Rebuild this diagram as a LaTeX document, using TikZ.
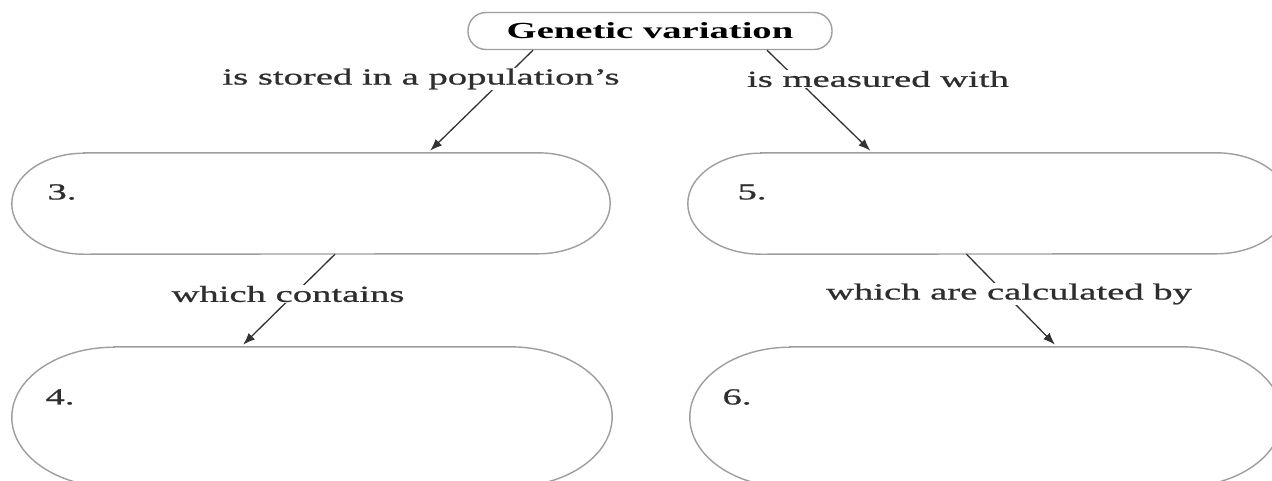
\documentclass[tikz,border=0pt]{standalone}
\usepackage{fontspec}
\setmainfont{Liberation Serif}[FakeStretch=1.68, UprightFeatures={FakeBold=0.8}]
\usetikzlibrary{arrows.meta,calc}
\tikzset{
  txt/.style={font=\fontsize{23}{27}\selectfont, text=black!82, inner sep=1pt},
  lab/.style={txt, fill=white},
  pillline/.style={draw=black!38, line width=1.4pt},
  conn/.style={draw=black!80, line width=1.3pt, -{Latex[length=12pt,width=9pt]}, shorten >=3pt},
  holder/.style={draw=none, inner sep=0pt}
}
% #1 node, #2 rx, #3 ry (pt)
\newcommand\pillout[3]{%
  \draw[pillline] let \p1=(#1.north west), \p2=(#1.south east) in
    (\x1+#2pt,\y1) -- (\x2-#2pt,\y1)
    arc[start angle=90,end angle=-90,x radius=#2pt,y radius=#3pt]
    -- (\x1+#2pt,\y2)
    arc[start angle=270,end angle=90,x radius=#2pt,y radius=#3pt] -- cycle;}
\begin{document}
\begin{tikzpicture}[x=1pt,y=-1pt]
\useasboundingbox (0,0) rectangle (1272,480);
\fill[white] (0,0) rectangle (1272,480);
\clip (0,0) rectangle (1272,480);

% top concept
\node[txt, text=black, draw=black!38, line width=1.4pt, rounded corners=18pt, minimum width=364pt, minimum height=37pt, font=\fontsize{23}{27}\selectfont\bfseries] (gv) at (650,31) {Genetic variation};

% boxes
\node[holder, minimum width=598pt, minimum height=101pt] (b3) at (311,203.5) {};
\node[holder, minimum width=601pt, minimum height=101pt] (b5) at (988.5,203.5) {};
\node[holder, minimum width=600pt, minimum height=140pt] (b4) at (312,417) {};
\node[holder, minimum width=592pt, minimum height=140pt] (b6) at (986,417) {};
\pillout{b3}{72}{50.5}
\pillout{b5}{73}{50.5}
\pillout{b4}{102}{70}
\pillout{b6}{100}{70}

% numbers
\node[txt] (n3) at (62,192) {3.};
\node[txt] (n5) at (752,192) {5.};
\node[txt] (n4) at (60,397) {4.};
\node[txt] (n6) at (737,397) {6.};

% connectors
\draw[conn] ([xshift=-117pt]gv.south) -- ([xshift=117pt]b3.north);
\draw[conn] ([xshift=117pt]gv.south) -- ([xshift=-116pt]b5.north);
\draw[conn] ([xshift=24pt]b3.south) -- ([xshift=-71pt]b4.north);
\draw[conn] ([xshift=-22pt]b5.south) -- ([xshift=71pt]b6.north);

% linking phrases
\node[lab] (l1) at (421,79) {is stored in a population's};
\node[lab] (l2) at (878,79) {is measured with};
\node[lab] (l3) at (288,294) {which contains};
\node[lab] (l4) at (1009,294) {which are calculated by};
\end{tikzpicture}
\end{document}
